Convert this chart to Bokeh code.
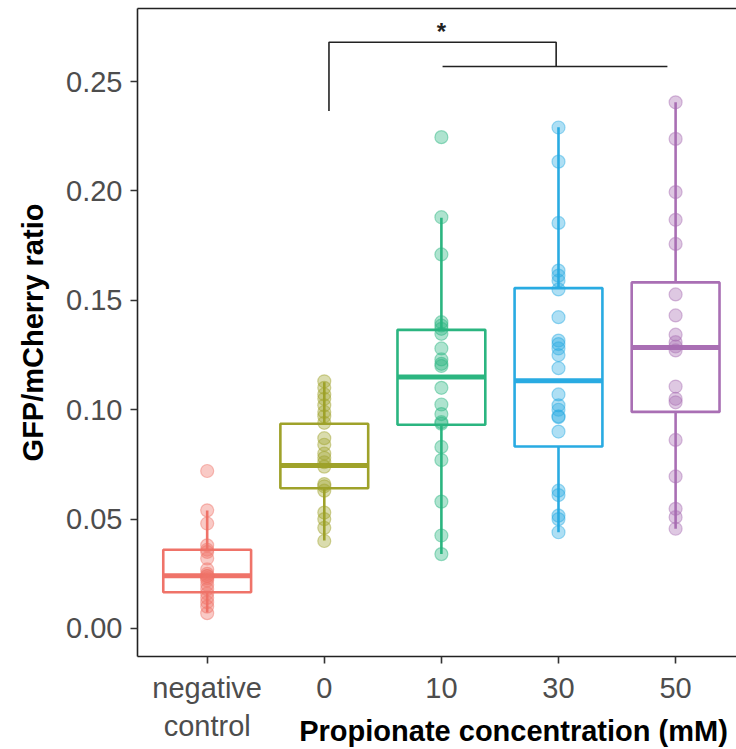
from bokeh.plotting import figure
from bokeh.models import (FixedTicker, LinearAxis, Range1d, ColumnDataSource)
from bokeh.core.properties import value
from bokeh.embed import file_html
from bokeh.resources import INLINE

# ---- data ----
categories = ["negative\ncontrol", "0", "10", "30", "50"]
colors = ["#EF7369", "#9FA22A", "#2BB580", "#29ABE2", "#A96FB4"]

vals_neg = [0.072, 0.054, 0.048, 0.038, 0.036, 0.035, 0.032, 0.027, 0.025, 0.024,
            0.024, 0.023, 0.022, 0.020, 0.018, 0.016, 0.014, 0.012, 0.010, 0.007]
vals_0 = [0.113, 0.110, 0.107, 0.105, 0.102, 0.099, 0.097, 0.094, 0.087, 0.084,
          0.080, 0.078, 0.076, 0.074, 0.066, 0.065, 0.063, 0.053, 0.050, 0.046, 0.040]
vals_10 = [0.2246, 0.188, 0.171, 0.140, 0.1385, 0.137, 0.1347, 0.128, 0.123, 0.121,
           0.120, 0.110, 0.1024, 0.098, 0.0943, 0.0936, 0.083, 0.077, 0.058, 0.0425, 0.034]
vals_30 = [0.229, 0.2134, 0.1854, 0.1636, 0.1613, 0.159, 0.155, 0.1423, 0.1316, 0.130,
           0.128, 0.125, 0.119, 0.107, 0.102, 0.100, 0.097, 0.0966, 0.090, 0.063,
           0.061, 0.0516, 0.050, 0.044]
vals_50 = [0.2405, 0.2238, 0.1995, 0.1868, 0.1758, 0.1527, 0.1431, 0.1343, 0.1309, 0.1289,
           0.1271, 0.1106, 0.105, 0.1034, 0.0862, 0.0695, 0.0547, 0.0509, 0.0456]

box_q1 = [0.0166, 0.0641, 0.0931, 0.0832, 0.0990]
box_med = [0.0241, 0.0745, 0.1150, 0.1133, 0.1284]
box_q3 = [0.0360, 0.0936, 0.1365, 0.1556, 0.1582]
whisker_lo = [0.0073, 0.0402, 0.0341, 0.0440, 0.0456]
whisker_hi = [0.0539, 0.1126, 0.1877, 0.2291, 0.2405]

y_ticks = [0.0, 0.05, 0.10, 0.15, 0.20, 0.25]
y_tick_labels = ["0.00", "0.05", "0.10", "0.15", "0.20", "0.25"]

# significance bracket (x in category positions, y in data units)
sig_text = "*"
bracket1_x = [2.04, 2.04, 3.98, 3.98]
bracket1_y = [0.2365, 0.2680, 0.2680, 0.2569]
bracket2_x = [3.01, 4.93]
bracket2_y = [0.2569, 0.2569]
sig_x = 3.0
sig_y = 0.2728

all_vals = [vals_neg, vals_0, vals_10, vals_30, vals_50]
xpos = [1, 2, 3, 4, 5]

p = figure(width=736, height=749, output_backend="svg", toolbar_location=None,
           x_range=Range1d(0.405, 5.52), y_range=Range1d(-0.0128, 0.2834),
           min_border_left=137, min_border_right=0, min_border_top=8,
           min_border_bottom=93)
p.background_fill_color = "white"
p.border_fill_color = "white"
p.outline_line_color = None
p.xgrid.visible = False
p.ygrid.visible = False

FONT = "Liberation Sans"

# axes styling
xa = p.xaxis[0]
xa.ticker = FixedTicker(ticks=xpos)
xa.major_label_overrides = {i: c for i, c in zip(xpos, categories)}
ya = p.yaxis[0]
ya.ticker = FixedTicker(ticks=y_ticks)
ya.major_label_overrides = {t: s for t, s in zip(y_ticks, y_tick_labels)}
for ax in (xa, ya):
    ax.axis_line_color = "#222222"
    ax.axis_line_width = 1.6
    ax.major_tick_line_color = "#333333"
    ax.major_tick_line_width = 1.6
    ax.major_tick_out = 7
    ax.major_tick_in = 0
    ax.minor_tick_line_color = None
    ax.major_label_text_font = FONT
    ax.major_label_text_font_size = "29px"
    ax.major_label_text_color = "#4D4D4D"
    ax.major_label_standoff = 8
    ax.axis_label_text_font = FONT
    ax.axis_label_text_font_size = "29px"
    ax.axis_label_text_font_style = "bold"
    ax.axis_label_text_color = "black"

ya.axis_label = "GFP/mCherry ratio"
ya.axis_label_standoff = 14

# x title sits to the right, beside the second line of the tick labels
xa.axis_label = "\u00a0" * 19 + "Propionate concentration (mM)"
if "axis_label_align" in xa.properties():
    xa.axis_label_align = "center"
xa.axis_label_standoff = -30

# top border line
top_axis = LinearAxis(ticker=FixedTicker(ticks=[]), axis_line_color="#222222",
                      axis_line_width=1.6, major_tick_line_color=None,
                      minor_tick_line_color=None, major_label_text_font_size="0px",
                      major_label_standoff=0, major_tick_out=0)
p.add_layout(top_axis, "above")

# boxes
hw = 0.375
src_box = ColumnDataSource(dict(
    left=[x - hw for x in xpos], right=[x + hw for x in xpos],
    q1=box_q1, q3=box_q3, med=box_med, lo=whisker_lo, hi=whisker_hi,
    x=xpos, color=colors))
p.segment(x0="x", y0="q3", x1="x", y1="hi", source=src_box, line_color="color", line_width=2.6)
p.segment(x0="x", y0="lo", x1="x", y1="q1", source=src_box, line_color="color", line_width=2.6)
p.quad(left="left", right="right", bottom="q1", top="q3", source=src_box,
       fill_color=None, line_color="color", line_width=2.6)
p.segment(x0="left", y0="med", x1="right", y1="med", source=src_box,
          line_color="color", line_width=5)

# points
for x, vals, c in zip(xpos, all_vals, colors):
    p.scatter(x=[x] * len(vals), y=vals, size=13, fill_color=c, fill_alpha=0.38,
              line_color=c, line_alpha=0.45, line_width=1.2)

# significance bracket
p.line(bracket1_x, bracket1_y, line_color="#222222", line_width=1.6)
p.line(bracket2_x, bracket2_y, line_color="#222222", line_width=1.6)
p.text(x=[sig_x], y=[sig_y], text=[sig_text], text_align="center",
       text_baseline="alphabetic", text_font=value(FONT), text_font_size="24px",
       text_font_style="bold", text_color="#222222")

open("out.html", "w").write(file_html(p, INLINE))
